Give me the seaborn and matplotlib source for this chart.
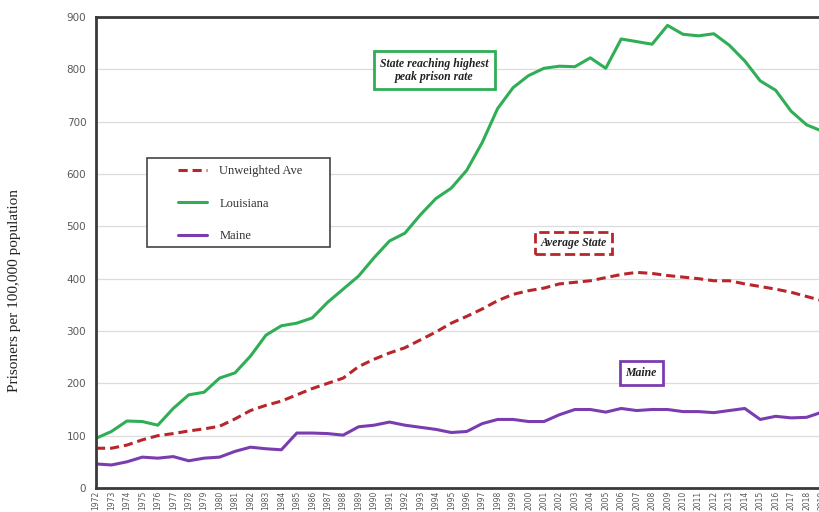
import pandas as pd
import numpy as np
import matplotlib.pyplot as plt
import seaborn as sns
from matplotlib.patches import Rectangle

# Values
years = list(range(1972, 2020))
louisiana = [95, 108, 128, 127, 120, 152, 178, 183, 210, 220,
             252, 292, 310, 315, 325, 355, 380, 405, 440, 472,
             487, 522, 553, 573, 607, 660, 725, 765, 788, 802,
             806, 805, 822, 802, 858, 853, 848, 884, 867, 864,
             868, 846, 816, 778, 760, 720, 694, 682]
unweighted_ave = [76, 76, 82, 92, 100, 104, 109, 113, 118, 132,
                  148, 158, 166, 178, 190, 200, 210, 232, 246, 258,
                  268, 283, 298, 315, 328, 342, 358, 370, 377, 382,
                  390, 393, 396, 402, 408, 412, 410, 406, 403, 400,
                  396, 396, 390, 385, 380, 374, 366, 358]
maine = [46, 44, 50, 59, 57, 60, 52, 57, 59, 70,
         78, 75, 73, 105, 105, 104, 101, 117, 120, 126,
         120, 116, 112, 106, 108, 123, 131, 131, 127, 127,
         140, 150, 150, 145, 152, 148, 150, 150, 146, 146,
         144, 148, 152, 131, 137, 134, 135, 145]

series_names = ['Unweighted Ave', 'Louisiana', 'Maine']
series_colors = {'Unweighted Ave': '#b8262b', 'Louisiana': '#2fae55', 'Maine': '#7a3db0'}

df = pd.DataFrame({'Year': years * 3,
                   'Rate': unweighted_ave + louisiana + maine,
                   'Series': np.repeat(series_names, len(years))})

sns.set_theme(style="white")
plt.rcParams['font.family'] = ['DejaVu Sans']

fig = plt.figure(figsize=(8.2, 5.12), dpi=100)
ax = fig.add_axes([96 / 820, 1 - 488 / 512, 726 / 820, 471 / 512])

sns.lineplot(data=df, x='Year', y='Rate', hue='Series', style='Series',
             palette=series_colors, hue_order=series_names,
             dashes={'Unweighted Ave': (3, 1.6), 'Louisiana': '', 'Maine': ''},
             linewidth=2.2, ax=ax)

ax.set_xlim(1972, 2019)
ax.set_ylim(0, 900)
ax.set_yticks(range(0, 901, 100))
ax.set_xticks(years)
ax.set_xticklabels([str(y) for y in years], rotation=90, fontsize=5.5, color='#595959')
ax.tick_params(axis='y', labelsize=7.5, labelcolor='#595959', length=0, pad=7)
ax.tick_params(axis='x', length=0, pad=2)
ax.grid(axis='y', color='#dcdcdc', linewidth=0.9)
ax.set_axisbelow(True)
ax.set_xlabel('')
ax.set_ylabel('')
for side in ['left', 'top', 'bottom']:
    ax.spines[side].set_color('#3a3a3a')
    ax.spines[side].set_linewidth(2)
ax.spines['right'].set_visible(False)

# legend frame drawn separately so it can be wider than the entries
ax.add_patch(Rectangle((51 / 726, (488 - 247) / 471), 183 / 726, 89 / 471,
                       transform=ax.transAxes, fc='white', ec='#444444', lw=1.2, zorder=4))
leg = ax.legend(loc='upper left', bbox_to_anchor=(82 / 726, (488 - 165) / 471), frameon=False,
                prop={'family': 'Liberation Serif', 'size': 9},
                handlelength=2.3, labelspacing=1.65, borderpad=0,
                handletextpad=1.0, borderaxespad=0)
leg.set_zorder(5)
for t in leg.get_texts():
    t.set_color('#333333')

box_font = dict(family='Liberation Serif', style='italic', weight='bold', fontsize=8.5, color='#222222')
ax.text(1993.9, 798, 'State reaching highest\npeak prison rate', ha='center', va='center',
        linespacing=1.1,
        bbox=dict(boxstyle='square,pad=0.55', fc='white', ec='#2fae55', lw=2), **box_font)
ax.text(2002.9, 468, 'Average State', ha='center', va='center',
        bbox=dict(boxstyle='square,pad=0.45', fc='white', ec='#b8262b', lw=2, ls='--'), **box_font)
ax.text(2007.3, 220, 'Maine', ha='center', va='center',
        bbox=dict(boxstyle='square,pad=0.5', fc='white', ec='#7a3db0', lw=2), **box_font)

fig.text(15 / 820, 1 - 290 / 512, 'Prisoners per 100,000 population', rotation=90,
         ha='center', va='center', family='Liberation Serif', fontsize=11, color='#222222')

plt.savefig('out.png', dpi=100)
plt.close()
